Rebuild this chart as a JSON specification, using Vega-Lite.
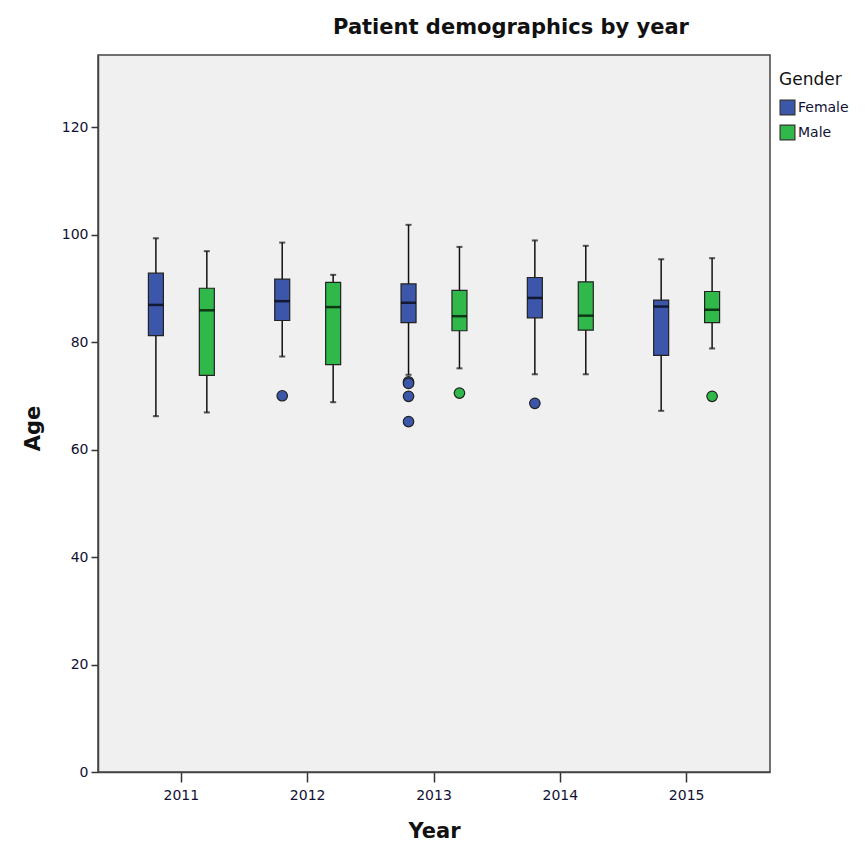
{
  "$schema": "https://vega.github.io/schema/vega-lite/v6.json",
  "width": 672,
  "height": 717,
  "autosize": {"type": "none"},
  "padding": {"left": 98, "top": 55, "right": 96, "bottom": 78},
  "background": "white",
  "title": {
    "text": "Patient demographics by year",
    "font": "DejaVu Sans",
    "fontSize": 21,
    "fontWeight": "bold",
    "color": "#111111",
    "anchor": "middle",
    "dx": 77,
    "offset": 17
  },
  "config": {
    "view": {"fill": "#F0F0F0", "stroke": "#444444", "strokeWidth": 1.5},
    "axis": {
      "labelFont": "DejaVu Sans",
      "labelFontSize": 14,
      "labelColor": "#111133",
      "titleFont": "DejaVu Sans",
      "titleFontSize": 21,
      "titleFontWeight": "bold",
      "titleColor": "#111111",
      "domainColor": "#444444",
      "domainWidth": 1.5,
      "tickColor": "#333333",
      "tickWidth": 1.5,
      "grid": false
    },
    "legend": {
      "titleFont": "DejaVu Sans",
      "titleFontSize": 17,
      "titleFontWeight": "normal",
      "titleColor": "#111111",
      "labelFont": "DejaVu Sans",
      "labelFontSize": 14,
      "labelColor": "#111133"
    }
  },
  "datasets": {
    "boxes": [
      {"Year": "2011", "Gender": "Female", "min": 66.2, "q1": 81.2, "median": 86.9, "q3": 92.8, "max": 99.3},
      {"Year": "2011", "Gender": "Male", "min": 66.9, "q1": 73.8, "median": 85.9, "q3": 90.0, "max": 96.9},
      {"Year": "2012", "Gender": "Female", "min": 77.3, "q1": 84.0, "median": 87.6, "q3": 91.7, "max": 98.5},
      {"Year": "2012", "Gender": "Male", "min": 68.8, "q1": 75.8, "median": 86.5, "q3": 91.1, "max": 92.5},
      {"Year": "2013", "Gender": "Female", "min": 73.9, "q1": 83.6, "median": 87.3, "q3": 90.8, "max": 101.8},
      {"Year": "2013", "Gender": "Male", "min": 75.1, "q1": 82.1, "median": 84.8, "q3": 89.6, "max": 97.7},
      {"Year": "2014", "Gender": "Female", "min": 74.0, "q1": 84.5, "median": 88.2, "q3": 92.0, "max": 98.9},
      {"Year": "2014", "Gender": "Male", "min": 74.0, "q1": 82.2, "median": 84.9, "q3": 91.2, "max": 97.9},
      {"Year": "2015", "Gender": "Female", "min": 67.2, "q1": 77.5, "median": 86.6, "q3": 87.8, "max": 95.4},
      {"Year": "2015", "Gender": "Male", "min": 78.8, "q1": 83.6, "median": 86.0, "q3": 89.4, "max": 95.6}
    ],
    "outliers": [
      {"Year": "2012", "Gender": "Female", "Age": 70.0},
      {"Year": "2013", "Gender": "Female", "Age": 72.6},
      {"Year": "2013", "Gender": "Female", "Age": 72.3},
      {"Year": "2013", "Gender": "Female", "Age": 69.9},
      {"Year": "2013", "Gender": "Female", "Age": 65.2},
      {"Year": "2013", "Gender": "Male", "Age": 70.5},
      {"Year": "2014", "Gender": "Female", "Age": 68.6},
      {"Year": "2015", "Gender": "Male", "Age": 69.9}
    ]
  },
  "encoding": {
    "x": {
      "field": "Year",
      "type": "ordinal",
      "scale": {"paddingInner": 0, "paddingOuter": 0.16},
      "axis": {"labelAngle": 0, "tickSize": 10, "labelPadding": 6, "title": "Year", "titlePadding": 18}
    },
    "xOffset": {
      "field": "Gender",
      "type": "nominal",
      "scale": {"paddingInner": 0, "paddingOuter": 0.24}
    }
  },
  "layer": [
    {
      "data": {"name": "boxes"},
      "mark": {"type": "rule", "color": "#111111", "strokeWidth": 1.5},
      "encoding": {
        "y": {"field": "min", "type": "quantitative"},
        "y2": {"field": "max"}
      }
    },
    {
      "data": {"name": "boxes"},
      "mark": {"type": "tick", "color": "#111111", "size": 6, "thickness": 2},
      "encoding": {
        "y": {"field": "min", "type": "quantitative"}
      }
    },
    {
      "data": {"name": "boxes"},
      "mark": {"type": "tick", "color": "#111111", "size": 6, "thickness": 2},
      "encoding": {
        "y": {"field": "max", "type": "quantitative"}
      }
    },
    {
      "data": {"name": "boxes"},
      "mark": {"type": "bar", "width": 15, "stroke": "#222222", "strokeWidth": 1.2, "opacity": 1},
      "encoding": {
        "y": {
          "field": "q1",
          "type": "quantitative",
          "scale": {"domain": [0, 133.4], "nice": false},
          "axis": {"values": [0, 20, 40, 60, 80, 100, 120], "tickSize": 7, "labelPadding": 3, "title": "Age", "titlePadding": 18, "titleY": 373}
        },
        "y2": {"field": "q3"},
        "fill": {
          "field": "Gender",
          "type": "nominal",
          "scale": {"domain": ["Female", "Male"], "range": ["#3C56A9", "#30B94A"]},
          "legend": {
            "title": "Gender",
            "orient": "none",
            "legendX": 681,
            "legendY": 17,
            "symbolType": "square",
            "symbolSize": 220,
            "symbolStrokeColor": "#333333",
            "symbolStrokeWidth": 1.2,
            "labelOffset": 2,
            "rowPadding": 4,
            "titlePadding": 10
          }
        }
      }
    },
    {
      "data": {"name": "boxes"},
      "mark": {"type": "tick", "color": "#000000", "size": 15, "thickness": 2.5},
      "encoding": {
        "y": {"field": "median", "type": "quantitative"}
      }
    },
    {
      "data": {"name": "outliers"},
      "mark": {"type": "point", "filled": true, "size": 110, "stroke": "#222222", "strokeWidth": 1.2, "opacity": 1},
      "encoding": {
        "y": {"field": "Age", "type": "quantitative"},
        "fill": {"field": "Gender", "type": "nominal"}
      }
    }
  ]
}
